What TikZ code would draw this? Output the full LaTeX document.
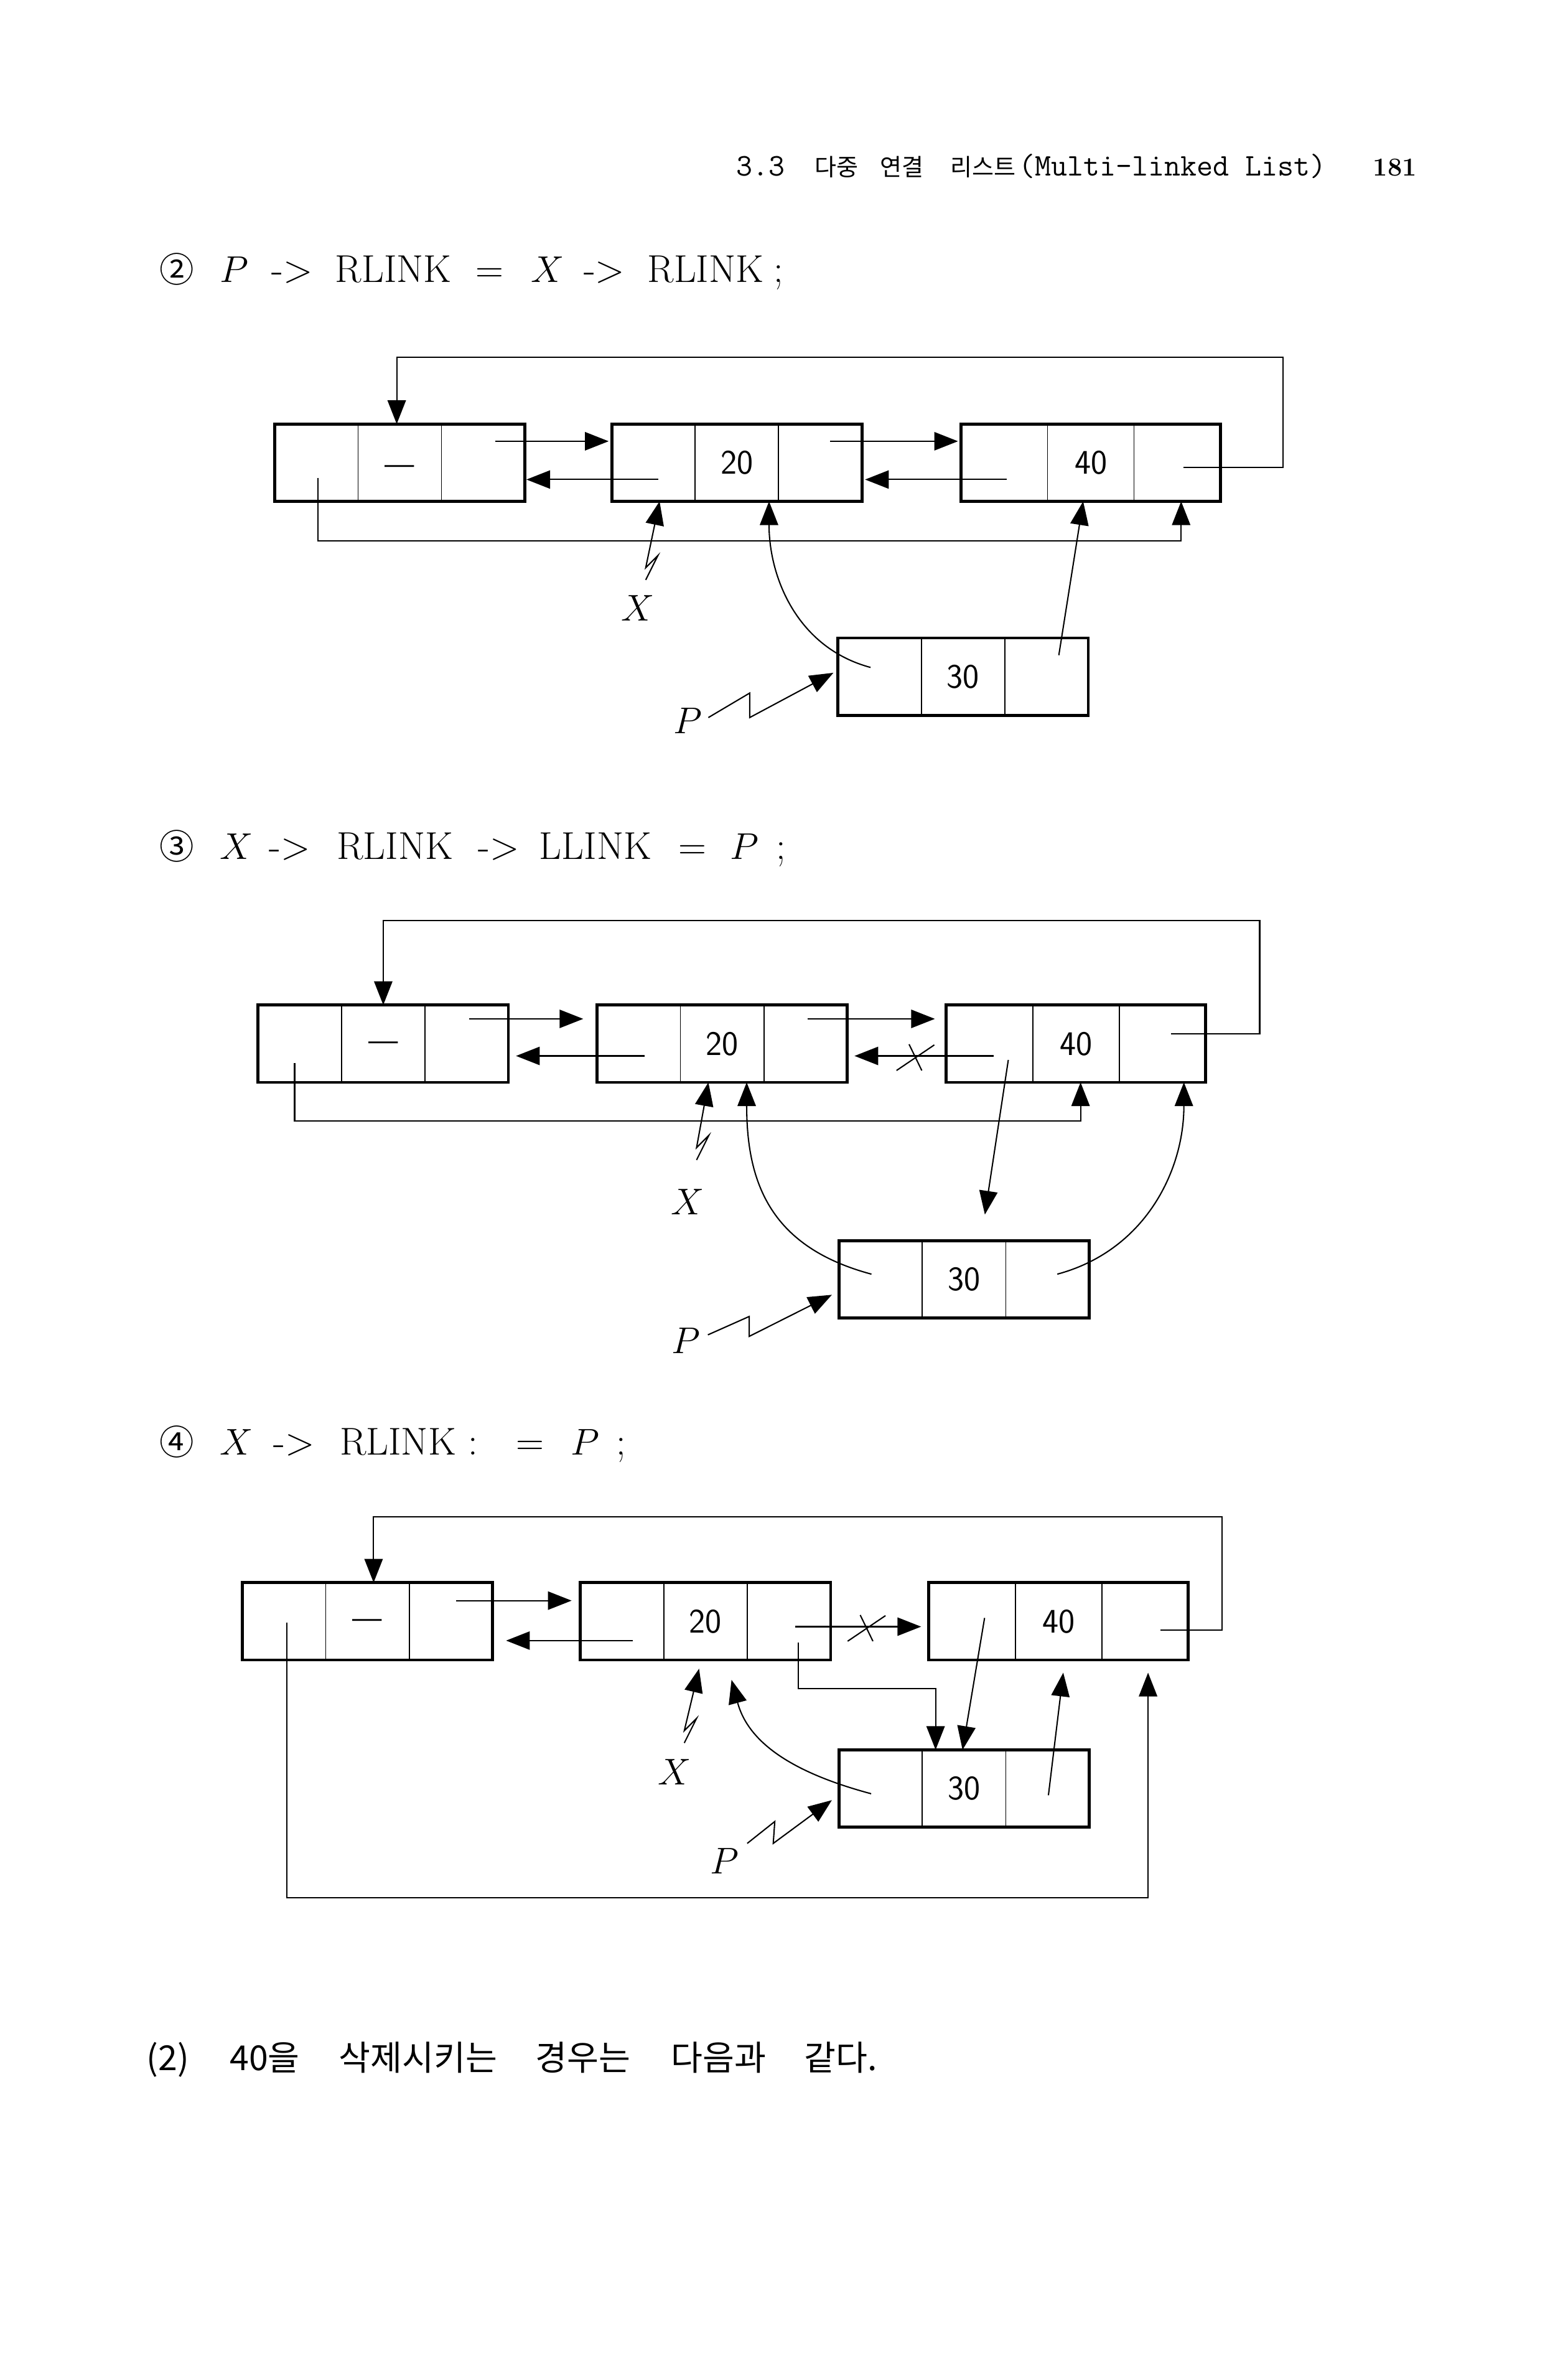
\documentclass[tikz,border=0pt]{standalone}
\usepackage{fontspec}
\newfontfamily\cjk{Noto Sans CJK KR}
\usetikzlibrary{positioning,arrows.meta,calc}

\tikzset{
  cell/.style={draw, line width=0.5pt, minimum height=1.2625cm, inner sep=0pt, outer sep=0pt,
    font=\sffamily\fontsize{16}{16}\selectfont},
  rim/.style={line width=1.4pt},
  link/.style={line width=0.6pt},
  ptr/.style={link, -{Triangle[length=11pt,width=8.5pt]}},
  var/.style={inner sep=0pt, font=\fontsize{17}{17}\selectfont},
  headline/.style={anchor=base west, inner sep=0pt, font=\fontsize{18}{20}\selectfont},
}

\newcommand\listnode[5]{%
  \node[cell, minimum width=#4*0.025cm, anchor=north west] (#1l) at (#2,#3) {};
  \node[cell, minimum width=#4*0.025cm, right=0pt of #1l] (#1m) {#5};
  \node[cell, minimum width=#4*0.025cm, right=0pt of #1m] (#1r) {};
  \draw[rim] (#1l.north west) rectangle (#1r.south east);}

\newcommand\cutmark[1]{%
  \draw[link] ([shift={(-12,-9.5)}]#1) -- ([shift={(12.7,7.2)}]#1)
    ([shift={(-3.8,7.6)}]#1) -- ([shift={(4.5,-9.5)}]#1);}

\newcommand\circnum[1]{\makebox[28pt][l]{\cjk\fontsize{16}{16}\selectfont #1}}
\newcommand\nilmark[1]{\raisebox{#1}[0pt][0pt]{\fontsize{14}{14}\selectfont ---}}

\begin{document}
\begin{tikzpicture}[x=0.025cm, y=0.025cm]
\useasboundingbox (0,0) rectangle (1024,-1549);

\node[anchor=base west, inner sep=0pt, font=\ttfamily\fontsize{14.6}{15}\selectfont] (head) at (480.6,-114.8)
  {\makebox[36.6pt][l]{3.3}{\cjk\fontsize{11}{11}\selectfont\makebox[30.4pt][l]{다중}\makebox[32.4pt][l]{연결}\makebox[32pt][l]{리스트}}(Multi-linked List)};
\node[anchor=base east, inner sep=0pt, font=\bfseries\fontsize{12}{12}\selectfont] (page) at (925.7,-114.8) {181};

\node[headline] (step2) at (104,-184.4)
  {\circnum{②}$P$\hspace{10.7pt}-{}>\hspace{10.5pt}RLINK\hspace{11.4pt}=\hspace{12.7pt}$X$\hspace{9pt}-{}>\hspace{10.5pt}RLINK\hspace{4.8pt};};

\listnode{a1}{179.4}{-276.9}{54.5}{\nilmark{-5.5pt}}
\listnode{b1}{399.6}{-276.9}{54.5}{20}
\listnode{c1}{627.8}{-276.9}{56.5}{40}
\listnode{d1}{547.4}{-416.6}{54.5}{30}
\node[var] (x1) at (416.8,-397.3) {$X$};
\node[var] (p1) at (449.3,-470.8) {$P$};

\draw[ptr] ([shift={(4,-3)}]c1r.center) -- ++(65,0) -- ++(0,72) -| ([shift={(-2,0)}]a1m.north);
\draw[ptr] ([shift={(8,14)}]a1r.center) -- ([shift={(-2,14)}]b1l.west);
\draw[ptr] ([shift={(3,-11)}]b1l.center) -- ([shift={(1,-11)}]a1r.east);
\draw[ptr] ([shift={(6.5,14)}]b1r.center) -- ([shift={(-2,14)}]c1l.west);
\draw[ptr] ([shift={(1.5,-11)}]c1l.center) -- ([shift={(2,-11)}]b1r.east);
\draw[ptr] ([shift={(1,-10)}]a1l.center) -- ++(0,-41) -| ([shift={(2.5,0)}]c1r.south);
\draw[ptr] ([shift={(5,18.6)}]x1.center) -- ++(8,16) -- ++(-8,-8) -- ([shift={(4,0)}]b1l.south);
\draw[ptr] ([shift={(-6,6)}]d1l.center) to[out=165,in=-90] ([shift={(21,0)}]b1m.south);
\draw[ptr] ([shift={(8,14)}]d1r.center) -- ([shift={(-5,0)}]c1m.south);
\draw[ptr] ([shift={(13.4,2.2)}]p1.center) -- ++(27,16) -- ++(0,-16) -- ([shift={(-3,2.5)}]d1l.west);

\node[headline] (step3) at (104,-561)
  {\circnum{③}$X$\hspace{7.4pt}-{}>\hspace{12.4pt}RLINK\hspace{11.8pt}-{}>\hspace{9.2pt}LLINK\hspace{12.5pt}=\hspace{11.2pt}$P$\hspace{7.9pt};};

\listnode{a2}{168.6}{-656.3}{54.5}{\nilmark{-3.5pt}}
\listnode{b2}{390}{-656.3}{54.5}{20}
\listnode{c2}{618.1}{-656.3}{56.5}{40}
\listnode{d2}{548}{-810.3}{54.5}{30}
\node[var] (x2) at (449.3,-785) {$X$};
\node[var] (p2) at (448.1,-875.7) {$P$};

\draw[ptr] ([shift={(5.5,6.5)}]c2r.center) -- ++(58,0) -- ++(0,74) -| (a2m.north);
\draw[ptr] ([shift={(1.8,16.2)}]a2r.center) -- ([shift={(-9,16.2)}]b2l.west);
\draw[ptr] ([shift={(4,-8)}]b2l.center) -- ([shift={(5,-8)}]a2r.east);
\draw[ptr] ([shift={(1.2,16.2)}]b2r.center) -- ([shift={(-7.4,16.2)}]c2l.west);
\draw[ptr] ([shift={(2.7,-8)}]c2l.center) -- coordinate[pos=0.566] (cut2) ([shift={(4.7,-8)}]b2r.east);
\cutmark{cut2}
\draw[ptr] ([shift={(-3.4,-12.5)}]a2l.center) -- ++(0,-38) -| ([shift={(3,0)}]c2m.south);
\draw[ptr] ([shift={(5.7,27.5)}]x2.center) -- ++(8,16) -- ++(-8,-8) -- ([shift={(-9,0)}]b2m.south);
\draw[ptr] ([shift={(-6,3.5)}]d2l.center) to[out=165,in=-90,looseness=1.15] ([shift={(16,0)}]b2m.south);
\draw[ptr] ([shift={(12.3,-10.6)}]c2l.center) -- ++(-15.3,-101);
\draw[ptr] ([shift={(6.4,3.5)}]d2r.center) to[out=15,in=-90] ([shift={(14,0)}]c2r.south);
\draw[ptr] ([shift={(14.3,4)}]p2.center) -- ++(27,12) -- ++(0,-13) -- ([shift={(-4.6,-10)}]d2l.west);

\node[headline] (step4) at (104,-949.9)
  {\circnum{④}$X$\hspace{9.5pt}-{}>\hspace{11.7pt}RLINK\hspace{5.7pt}:\hspace{17.7pt}=\hspace{12.4pt}$P$\hspace{7.8pt};};

\listnode{a3}{158.3}{-1033.5}{54.5}{\nilmark{-3.5pt}}
\listnode{b3}{379.1}{-1033.5}{54.5}{20}
\listnode{c3}{606.7}{-1033.5}{56.5}{40}
\listnode{d3}{548}{-1142.7}{54.5}{30}
\node[var] (x3) at (440.7,-1157) {$X$};
\node[var] (p3) at (473.2,-1215.2) {$P$};

\draw[ptr] ([shift={(10,-5.8)}]c3r.center) -- ++(40.5,0) -- ++(0,74) -| ([shift={(4,0)}]a3m.north);
\draw[ptr] ([shift={(3.5,13.5)}]a3r.center) -- ([shift={(-5.7,13.5)}]b3l.west);
\draw[ptr] ([shift={(7,-12.6)}]b3l.center) -- ([shift={(8.8,-12.6)}]a3r.east);
\draw[ptr] ([shift={(4,-3.5)}]b3r.center) -- coordinate[pos=0.563] (cut3) ([shift={(-5,-3.5)}]c3l.west);
\cutmark{cut3}
\draw[ptr] ([shift={(6.3,-13.8)}]b3r.center) -- ++(0,-30.2) -| ([shift={(-18.6,0)}]d3m.north);
\draw[ptr] ([shift={(8.2,2.2)}]c3l.center) -- ([shift={(-1,0)}]d3m.north);
\draw[ptr] ([shift={(0.6,-4.4)}]d3r.center) -- ([shift={(3.1,-8.3)}]c3m.south);
\draw[ptr] ([shift={(1.8,-0.7)}]a3l.center) -- ++(0,-179.7) -| ([shift={(2,-8.3)}]c3r.south);
\draw[ptr] ([shift={(6.3,18.8)}]x3.center) -- ++(8,16) -- ++(-8,-8) -- ([shift={(-4.2,-5.7)}]b3m.south);
\draw[ptr] ([shift={(-6.2,-3.4)}]d3l.center) to[out=165,in=-75] ([shift={(17,-13)}]b3m.south);
\draw[ptr] ([shift={(14.9,11.4)}]p3.center) -- ++(18,14.3) -- ++(-1,-14.3) -- ([shift={(-4.6,-7.6)}]d3l.west);

\node[anchor=base west, inner sep=0pt, font=\cjk\fontsize{16}{16}\selectfont] (next) at (95.6,-1352)
  {\makebox[38.6pt][l]{(2)}\makebox[50.7pt][l]{40을}\makebox[91.2pt][l]{삭제시키는}\makebox[63pt][l]{경우는}\makebox[62pt][l]{다음과}같다.};
\end{tikzpicture}
\end{document}
